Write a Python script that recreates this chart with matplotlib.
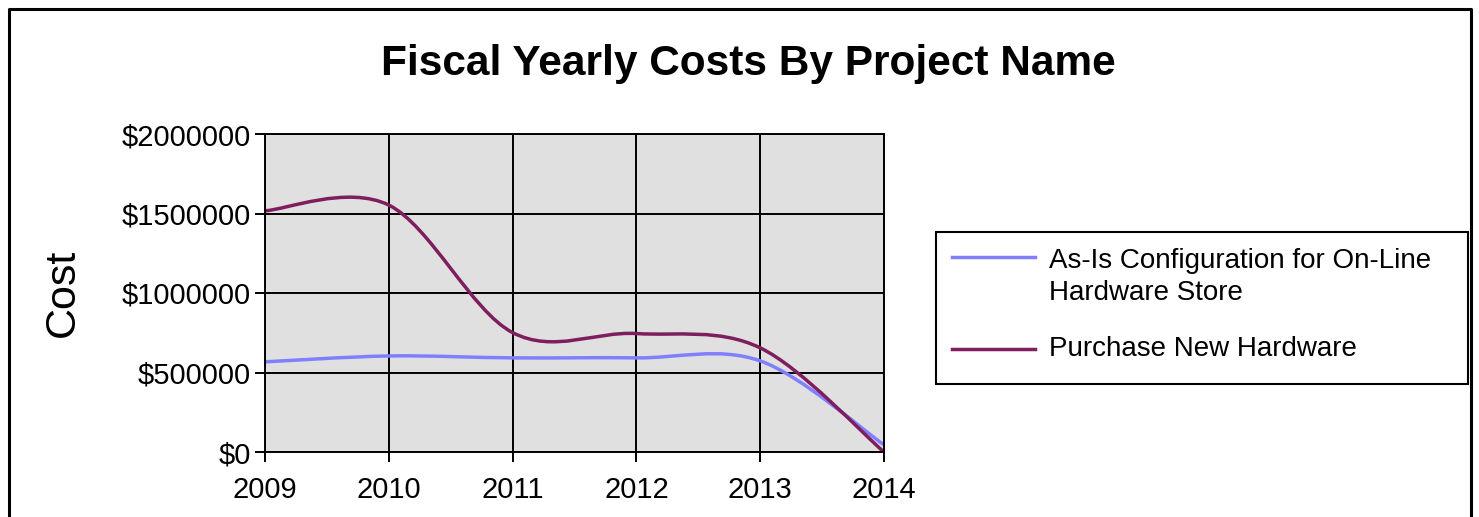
import matplotlib
matplotlib.use("Agg")
import matplotlib.pyplot as plt
from matplotlib.path import Path
from matplotlib.patches import PathPatch, Rectangle
from matplotlib.lines import Line2D
from matplotlib.ticker import FuncFormatter

# Yearly costs per project
years = [2009, 2010, 2011, 2012, 2013, 2014]
as_is_costs = [567000, 604000, 592000, 592000, 573000, 45000]
purchase_costs = [1517000, 1553000, 751000, 745000, 655000, 0]
series_names = ["As-Is Configuration for On-Line\nHardware Store",
                "Purchase New Hardware"]
series_colors = ["#8080FF", "#7E1E5E"]
y_ticks = [0, 500000, 1000000, 1500000, 2000000]

plt.rcParams["font.family"] = ["Liberation Sans", "DejaVu Sans"]


def smooth_path(xs, ys):
    """Cubic Bezier path through the points (Catmull-Rom tangents)."""
    n = len(xs)
    tangents = []
    for i in range(n):
        lo, hi = max(i - 1, 0), min(i + 1, n - 1)
        tangents.append(((xs[hi] - xs[lo]) / 2.0, (ys[hi] - ys[lo]) / 2.0))
    verts = [(xs[0], ys[0])]
    codes = [Path.MOVETO]
    for i in range(n - 1):
        dx0, dy0 = tangents[i]
        dx1, dy1 = tangents[i + 1]
        verts += [(xs[i] + dx0 / 3.0, ys[i] + dy0 / 3.0),
                  (xs[i + 1] - dx1 / 3.0, ys[i + 1] - dy1 / 3.0),
                  (xs[i + 1], ys[i + 1])]
        codes += [Path.CURVE4] * 3
    return Path(verts, codes)


W, H = 1479, 517
fig = plt.figure(figsize=(W / 100, H / 100), dpi=100)
fig.patch.set_facecolor("white")

# frame around the chart (bottom edge runs off the image)
fig.add_artist(Line2D([9 / W, 9 / W, 1471 / W, 1471 / W],
                      [0, 1 - 9 / H, 1 - 9 / H, 0],
                      transform=fig.transFigure, color="black", lw=2.2))

ax = fig.add_axes([265 / W, 1 - 452 / H, (884 - 265) / W, (452 - 134) / H])
ax.set_facecolor("#E0E0E0")
ax.set_xlim(years[0], years[-1])
ax.set_ylim(y_ticks[0], y_ticks[-1])
ax.set_xticks(years)
ax.set_yticks(y_ticks)
ax.yaxis.set_major_formatter(FuncFormatter(lambda v, p: "${:d}".format(int(v))))
ax.grid(True, color="black", lw=1.4)
ax.set_axisbelow(True)
for s in ax.spines.values():
    s.set_color("black")
    s.set_linewidth(1.4)
ax.tick_params(axis="both", direction="out", length=7, width=1.4,
               labelsize=21, colors="black")
ax.tick_params(axis="x", pad=10)
ax.tick_params(axis="y", pad=3)

for vals, color in zip([as_is_costs, purchase_costs], series_colors):
    ax.add_patch(PathPatch(smooth_path(years, vals), facecolor="none",
                           edgecolor=color, lw=2.5, clip_on=True,
                           capstyle="round", joinstyle="round"))

ax.set_ylabel("Cost", fontsize=31, labelpad=28)

fig.text(748 / W, 1 - 64 / H, "Fiscal Yearly Costs By Project Name",
         ha="center", va="center", fontsize=30.5, fontweight="bold")

# legend box
fig.add_artist(Rectangle((936 / W, 1 - 384 / H), (1468 - 936) / W, (384 - 232) / H,
                         transform=fig.transFigure, facecolor="white",
                         edgecolor="black", lw=1.5))
for (y_line, y_text), name, color in zip([(257, 277), (349, 349)],
                                         series_names, series_colors):
    fig.add_artist(Line2D([952 / W, 1035 / W], [1 - y_line / H] * 2,
                          transform=fig.transFigure, color=color, lw=2.5))
    fig.text(1049 / W, 1 - y_text / H, name, ha="left", va="center",
             fontsize=20, linespacing=1.35)

fig.savefig("out.png", dpi=100, facecolor="white")
